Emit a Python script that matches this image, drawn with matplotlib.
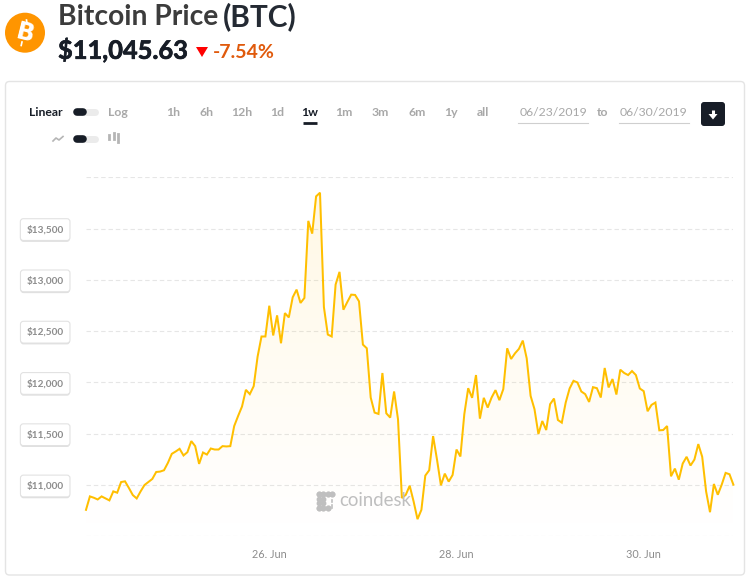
# bitcoin price chart, one week of hourly prices

import matplotlib
matplotlib.use("Agg")
import matplotlib.pyplot as plt
import matplotlib.dates as mdates
import matplotlib.patheffects as pe
from matplotlib.patches import FancyBboxPatch, Circle, Polygon
import numpy as np
import pandas as pd

plt.rcParams["font.family"] = ["Lato", "DejaVu Sans"]

# ======= DATA =======
start_time = "2019-06-24 01:00"

prices = [
    10758, 10889, 10876, 10859, 10889, 10869, 10850, 10938, 10925, 11029,
    11036, 10971, 10902, 10869, 10938, 11000, 11029, 11059, 11127, 11131,
    11144, 11216, 11304, 11327, 11353, 11288, 11320, 11428, 11379, 11206,
    11317, 11297, 11356, 11346, 11346, 11379, 11376, 11379, 11575, 11673,
    11765, 11928, 11886, 11964, 12252, 12448, 12448, 12748, 12458, 12654,
    12382, 12676, 12634, 12830, 12905, 12775, 12824, 13575, 13451, 13814,
    13850, 12735, 12467, 12448, 12954, 13078, 12709, 12784, 12856, 12853,
    12791, 12369, 12333, 11853, 11706, 11693, 12092, 11699, 11657, 11912,
    11641, 10873, 10905, 10993, 10840, 10667, 10758, 11092, 11144, 11477,
    11248, 10997, 11111, 11033, 11098, 11346, 11278, 11690, 11944, 11850,
    12072, 11647, 11850, 11755, 11853, 11925, 11827, 11935, 12333, 12229,
    12284, 12327, 12408, 12235, 11869, 11739, 11497, 11624, 11536, 11788,
    11843, 11634, 11608, 11804, 11941, 12016, 12000, 11912, 11886, 11810,
    11954, 11944, 11853, 12141, 11951, 12033, 11882, 12124, 12092, 12072,
    12111, 12072, 11941, 11915, 11719, 11781, 11804, 11533, 11536, 11575,
    11085, 11160, 11052, 11209, 11275, 11190, 11248, 11399, 11275, 10938,
    10735, 11010, 10905, 11003, 11118, 11105, 11003,
]

y_ticks = [10500, 11000, 11500, 12000, 12500, 13000, 13500, 14000]
y_labels = ["", "$11,000", "$11,500", "$12,000", "$12,500", "$13,000", "$13,500", ""]

x_ticks = ["2019-06-26", "2019-06-28", "2019-06-30"]
x_labels = ["26. Jun", "28. Jun", "30. Jun"]

range_buttons = ["1h", "6h", "12h", "1d", "1w", "1m", "3m", "6m", "1y", "all"]
range_centers = [173, 206, 242, 277, 310, 344, 380, 417, 451, 483]

DARK = "#171d27"
GREY = "#a8a8a8"
LINE = "#ffbf00"

W, H = 746, 587
fig = plt.figure(figsize=(W / 100, H / 100), dpi=100, facecolor="white")

# ======= PRICE CHART =======
times = pd.date_range(start_time, periods=len(prices), freq="h")

ax = fig.add_axes([86 / W, (H - 536.3) / H, (733.4 - 86) / W, (536.3 - 177.3) / H])
ax.set_facecolor("none")
ax.set_xlim(times[0], times[-1])
ax.set_ylim(10500, 14000)

for side in ax.spines.values():
    side.set_visible(False)

ax.yaxis.grid(True, color="#e6e6e6", linewidth=0.8, linestyle=(0, (4, 2.6)), zorder=0)
ax.set_axisbelow(True)

# soft gradient under the line, clipped to the area
area = ax.fill_between(times, prices, 10500, facecolor="none", edgecolor="none")
gradient = np.zeros((256, 2, 4))
gradient[..., :3] = matplotlib.colors.to_rgb(LINE)
gradient[..., 3] = np.linspace(0.105, 0.0, 256)[:, None]
x0, x1 = mdates.date2num(times[0]), mdates.date2num(times[-1])
im = ax.imshow(gradient, extent=[x0, x1, 10500, max(prices)], aspect="auto", origin="upper", zorder=1)
im.set_clip_path(area.get_paths()[0], transform=ax.transData)
ax.set_xlim(times[0], times[-1])
ax.set_ylim(10500, 14000)

ax.plot(times, prices, color=LINE, linewidth=1.45, zorder=2, solid_joinstyle="miter", clip_on=False)

ax.set_xticks(pd.to_datetime(x_ticks))
ax.set_xticklabels(x_labels)
ax.set_yticks(y_ticks)
ax.set_yticklabels(y_labels)
ax.tick_params(axis="x", length=0, pad=9, labelsize=7.8, labelcolor="#8c8c8c")
ax.tick_params(axis="y", length=0, pad=16, labelsize=7.2, labelcolor="#8c8c8c")

for lbl in ax.get_yticklabels():
    lbl.set_fontweight("bold")
    lbl.set_bbox(dict(boxstyle="round,pad=0.62,rounding_size=0.3", facecolor="white",
                      edgecolor="#e2e2e2", linewidth=0.8))
    lbl.get_bbox_patch().set_path_effects(
        [pe.SimplePatchShadow(offset=(0, -1), shadow_rgbFace="#000000", alpha=0.12), pe.Normal()])

# ======= PAGE FURNITURE, drawn in pixel coordinates =======
ui = fig.add_axes([0, 0, 1, 1], zorder=5)
ui.set_xlim(0, W)
ui.set_ylim(H, 0)
ui.axis("off")
ui.patch.set_alpha(0)

ui.add_patch(FancyBboxPatch((5.5, 81.5), 739, 493.5, boxstyle="round,pad=0,rounding_size=4",
                            facecolor="none", edgecolor="#e4e4e4", linewidth=1))

# coin icon
ui.add_patch(Circle((25, 32.7), 20, facecolor="#ff9500", edgecolor="none"))
ui.text(25, 33.5, "B", color="white", fontsize=17, fontweight="black", rotation=-14,
        ha="center", va="center", family="DejaVu Sans")
ui.plot([26.5, 27.2], [20, 24], color="white", lw=1.2)
ui.plot([22, 21.2], [42, 45.5], color="white", lw=1.2)

# header
heavier = [pe.withStroke(linewidth=0.5, foreground=DARK)]
ui.text(58, 17, "Bitcoin Price", color="#3c3c3c", fontsize=20.3, fontweight="bold", ha="left", va="center")
ui.text(223, 17, "(BTC)", color="#242a33", fontsize=21.5, fontweight="bold", ha="left", va="center")
ui.text(58, 50.5, "$11,045.63", color=DARK, fontsize=18.3, fontweight="bold", ha="left", va="center",
        path_effects=heavier)
ui.add_patch(Polygon([(196, 47), (208, 47), (202, 57)], facecolor="#ff0000", edgecolor="none"))
ui.text(213, 52.5, "-7.54%", color="#e05a0c", fontsize=14, fontweight="bold", ha="left", va="center")

# toggles
for y in (111.7, 139):
    ui.plot([77, 95], [y, y], color="#ebebeb", lw=5, solid_capstyle="round")
    ui.plot([77, 83], [y, y], color=DARK, lw=5.5, solid_capstyle="round")

ui.text(29, 112, "Linear", color=DARK, fontsize=8.8, fontweight="bold", ha="left", va="center")
ui.text(108, 112, "Log", color=GREY, fontsize=8.8, fontweight="bold", ha="left", va="center")

# little line and candle icons
ui.plot([53, 56, 59, 63], [141, 138, 140, 136.5], color="#b5b5b5", lw=1.2)
for cx, top, bottom in [(109, 135, 139), (113.5, 133, 139), (118, 134, 142)]:
    ui.plot([cx, cx], [top, bottom], color="#b5b5b5", lw=2)

# range buttons
for name, cx in zip(range_buttons, range_centers):
    ui.text(cx, 112.5, name, color=DARK if name == "1w" else GREY, fontsize=8.8,
            fontweight="bold", ha="center", va="center")
ui.plot([303, 317], [123, 123], color=DARK, lw=2, solid_capstyle="butt")

# date inputs
ui.text(553, 112.5, "06/23/2019", color=GREY, fontsize=8.8, ha="center", va="center")
ui.text(603, 112.5, "to", color=GREY, fontsize=8.8, fontweight="bold", ha="center", va="center")
ui.text(654, 112.5, "06/30/2019", color=GREY, fontsize=8.8, ha="center", va="center")
ui.plot([518, 588], [123.3, 123.3], color="#cfcfcf", lw=0.8)
ui.plot([619, 689], [123.3, 123.3], color="#cfcfcf", lw=0.8)

# download button
ui.add_patch(FancyBboxPatch((701, 102), 24, 24, boxstyle="round,pad=0,rounding_size=3",
                            facecolor=DARK, edgecolor="none"))
ui.add_patch(Polygon([(708.5, 114), (717.5, 114), (713, 119.5)], facecolor="white", edgecolor="none"))
ui.plot([713, 713], [109.5, 115], color="white", lw=2.2, solid_capstyle="butt")

# watermark
wm = "#bfbfbf"
for px in [318.5, 323, 327.5, 332]:
    ui.plot([px, px], [494, 494], marker="o", ms=3.2, color=wm, ls="none")
    if px < 330:
        ui.plot([px, px], [508, 508], marker="o", ms=3.2, color=wm, ls="none")
for py in [498.5, 503]:
    ui.plot([318.5, 323], [py, py], marker="o", ms=3.2, color=wm, ls="none")
ui.plot([332, 332], [500, 502], color=wm, lw=1.2)
ui.plot([332, 332], [505, 508], color=wm, lw=1.2)
ui.text(339, 500, "coindesk", color=wm, fontsize=13.4, ha="left", va="center")

fig.savefig("out.png", dpi=100)
